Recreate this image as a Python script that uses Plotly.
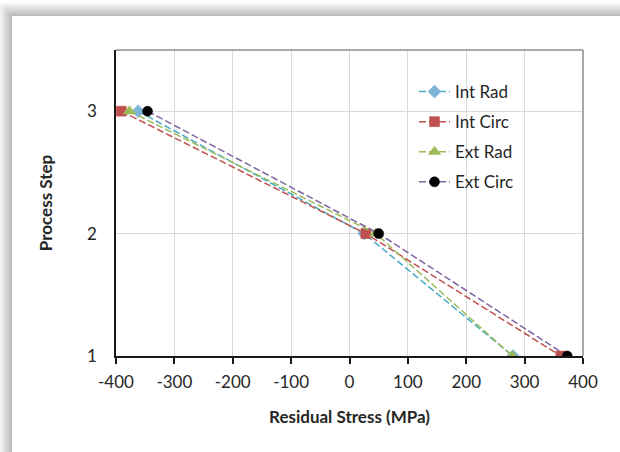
import plotly.graph_objects as go

# ── Data ─────────────────────────────────────
steps = [3, 2, 1]

int_rad = [-362, 25, 280]
int_circ = [-391, 28, 362]
ext_rad = [-377, 45, 279]
ext_circ = [-346, 50, 373]

x_ticks = [-400, -300, -200, -100, 0, 100, 200, 300, 400]
y_ticks = [1, 2, 3]

# ── Styling ──────────────────────────────────
SERIES = [
    ("Int Rad", int_rad, "#4BACC6", "#7DB4D8", "diamond", 10),
    ("Int Circ", int_circ, "#C0504D", "#C0504D", "square", 10),
    ("Ext Rad", ext_rad, "#9BBB59", "#9BBB59", "triangle-up", 11),
    ("Ext Circ", ext_circ, "#8064A2", "#000000", "circle", 10),
]

FONT = "Lato, Open Sans, sans-serif"
W, H = 620, 452
L, R, T, B = 116, 37, 50, 96
PW, PH = W - L - R, H - T - B


def px_x(p):
    return (p - L) / PW


def px_y(p):
    return (H - B - p) / PH


fig = go.Figure()

for name, xs, lc, mc, sym, size in SERIES:
    fig.add_trace(go.Scatter(
        x=xs, y=steps,
        mode="lines+markers",
        name=name,
        legendgroup=name,
        line=dict(color=lc, width=1.5, dash="7px,3px"),
        marker=dict(symbol=sym, size=size, color=mc,
                    line=dict(width=0.5, color=mc)),
    ))

# shadow frame around the chart area
shapes = []
for k in range(14, 0, -1):
    shade = int(252 - (14 - k) * 5)
    shapes.append(dict(
        type="rect", xref="paper", yref="paper", layer="below",
        x0=px_x(12 - k), x1=px_x(W + 40),
        y0=px_y(H + 40), y1=px_y(16 - k),
        fillcolor=f"rgb({shade},{shade},{shade})", line=dict(width=0),
    ))
shapes.append(dict(
    type="rect", xref="paper", yref="paper", layer="below",
    x0=px_x(12), x1=px_x(W + 40), y0=px_y(H + 40), y1=px_y(16),
    fillcolor="white", line=dict(width=0),
))
# plot-area border (top and right)
shapes.append(dict(type="line", xref="paper", yref="paper",
                   x0=0, x1=1, y0=1, y1=1,
                   line=dict(color="#8c8c8c", width=1.5)))
shapes.append(dict(type="line", xref="paper", yref="paper",
                   x0=1, x1=1, y0=0, y1=1,
                   line=dict(color="#8c8c8c", width=1.5)))

fig.update_layout(
    width=W, height=H,
    margin=dict(l=L, r=R, t=T, b=B),
    paper_bgcolor="white",
    plot_bgcolor="rgba(0,0,0,0)",
    font=dict(family=FONT, color="#262626"),
    shapes=shapes,
    showlegend=True,
    legend=dict(
        x=px_x(414), y=px_y(74), xanchor="left", yanchor="top",
        bgcolor="rgba(0,0,0,0)",
        font=dict(size=17, family=FONT, color="#262626"),
        traceorder="grouped", tracegroupgap=5,
        itemwidth=31,
    ),
    xaxis=dict(
        range=[-400, 400],
        tickvals=x_ticks,
        ticktext=[str(v) for v in x_ticks],
        tickfont=dict(size=17),
        showgrid=True, gridcolor="#d9d9d9", gridwidth=1,
        zeroline=False,
        showline=True, linecolor="#1a1a1a", linewidth=2,
        ticks="outside", ticklen=6, tickwidth=1.5, tickcolor="#1a1a1a",
        ticklabelstandoff=4,
        title=dict(text="<b>Residual Stress (MPa)</b>",
                   font=dict(size=17), standoff=20),
    ),
    yaxis=dict(
        range=[1, 3.5],
        tickvals=y_ticks,
        tickfont=dict(size=17),
        showgrid=True, gridcolor="#d9d9d9", gridwidth=1,
        zeroline=False,
        showline=True, linecolor="#1a1a1a", linewidth=1.5,
        ticks="", ticklabelstandoff=14,
        title=dict(text="<b>Process Step</b>",
                   font=dict(size=17), standoff=30),
    ),
)

fig.write_html("out.html", config={"displayModeBar": False},
               post_script="document.body.style.margin='0';")
